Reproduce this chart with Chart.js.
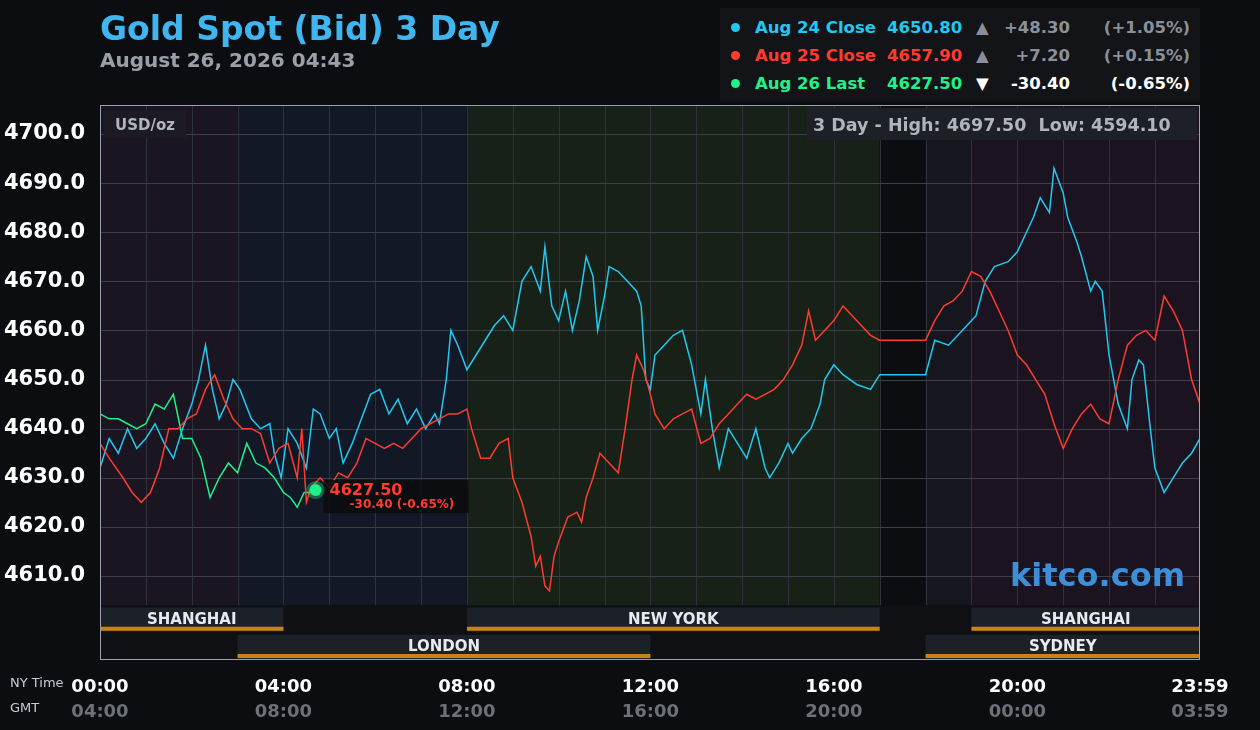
<!DOCTYPE html>
<html><head><meta charset="utf-8">
<script src="https://cdn.jsdelivr.net/npm/chart.js@4"></script>
<style>
body{margin:0;background:#0b0d10;font-family:"DejaVu Sans",sans-serif;}
#wrap{position:relative;width:1260px;height:730px;}
canvas{position:absolute;left:0;top:0;}
#title{position:absolute;left:100px;top:9px;color:#3fb6f0;font-weight:bold;font-size:33px;}
#date{position:absolute;left:100px;top:48px;color:#9aa0a8;font-weight:bold;font-size:20px;}
#legend{position:absolute;left:720px;top:8px;width:480px;height:94px;background:#121417;font-weight:bold;font-size:16.5px;}
.row{position:absolute;left:0;height:24px;width:480px;}
.row span{position:absolute;top:0;}
</style></head><body>
<div id="wrap">
<canvas id="c" width="1260" height="730"></canvas>
<div id="title">Gold Spot (Bid) 3 Day</div>
<div id="date">August 26, 2026 04:43</div>
<div id="legend"></div>
</div>
<script>
const seriesNames=["Aug 24 Close","Aug 25 Close","Aug 26 Last"];
const seriesPrices=["4650.80","4657.90","4627.50"];
const seriesChange=["+48.30","+7.20","-30.40"];
const seriesPct=["(+1.05%)","(+0.15%)","(-0.65%)"];
const seriesColors=["#22c8f0","#ff3b30","#22f08a"];
const xTickNY=["00:00","04:00","08:00","12:00","16:00","20:00","23:59"];
const xTickGMT=["04:00","08:00","12:00","16:00","20:00","00:00","03:59"];
const xTickMin=[0,240,480,720,960,1200,1439];
const yTicks=[4610,4620,4630,4640,4650,4660,4670,4680,4690,4700];
const sessions=[["SHANGHAI",0,4,0],["NEW YORK",8,17,0],["SHANGHAI",19,24,0],["LONDON",3,12,1],["SYDNEY",18,24,1]];

const cyanH=[0,0.2,0.4,0.6,0.8,1.0,1.2,1.4,1.6,1.8,2.0,2.15,2.3,2.45,2.6,2.75,2.9,3.05,3.3,3.5,3.7,3.8,3.95,4.1,4.3,4.5,4.65,4.8,5.0,5.15,5.3,5.5,5.7,5.9,6.1,6.3,6.5,6.7,6.9,7.1,7.3,7.4,7.55,7.65,7.8,8.0,8.2,8.4,8.6,8.8,9.0,9.2,9.4,9.6,9.7,9.85,10.0,10.15,10.3,10.45,10.6,10.75,10.85,11.0,11.1,11.3,11.5,11.7,11.8,11.9,12.0,12.1,12.3,12.5,12.7,12.9,13.1,13.2,13.35,13.5,13.7,13.9,14.1,14.3,14.5,14.6,14.8,15.0,15.1,15.3,15.5,15.7,15.8,16.0,16.2,16.5,16.8,17.0,18.0,18.2,18.5,18.8,19.1,19.3,19.5,19.8,20.0,20.2,20.35,20.5,20.7,20.8,21.0,21.1,21.3,21.4,21.6,21.7,21.85,22.0,22.2,22.4,22.5,22.65,22.75,22.9,23.0,23.2,23.4,23.6,23.8,24];
const cyanV=[4632,4638,4635,4640,4636,4638,4641,4637,4634,4640,4645,4650,4657,4648,4642,4645,4650,4648,4642,4640,4641,4635,4630,4640,4637,4632,4644,4643,4638,4640,4633,4637,4642,4647,4648,4643,4646,4641,4644,4640,4643,4641,4650,4660,4657,4652,4655,4658,4661,4663,4660,4670,4673,4668,4677,4665,4662,4668,4660,4666,4675,4671,4660,4667,4673,4672,4670,4668,4665,4650,4648,4655,4657,4659,4660,4653,4643,4650,4640,4632,4640,4637,4634,4640,4632,4630,4633,4637,4635,4638,4640,4645,4650,4653,4651,4649,4648,4651,4651,4658,4657,4660,4663,4670,4673,4674,4676,4680,4683,4687,4684,4693,4688,4683,4678,4675,4668,4670,4668,4655,4645,4640,4650,4654,4653,4640,4632,4627,4630,4633,4635,4638,4635,4633];
const redH=[0,0.2,0.5,0.7,0.9,1.1,1.3,1.5,1.7,1.9,2.1,2.3,2.5,2.7,2.9,3.1,3.3,3.5,3.7,3.9,4.1,4.3,4.4,4.5,4.6,4.8,5.0,5.2,5.4,5.6,5.8,6.0,6.2,6.4,6.6,6.8,7.0,7.2,7.4,7.6,7.8,8.0,8.1,8.3,8.5,8.7,8.9,9.0,9.2,9.4,9.5,9.6,9.7,9.8,9.9,10.0,10.2,10.4,10.5,10.6,10.75,10.9,11.1,11.3,11.45,11.6,11.7,11.85,12.0,12.1,12.3,12.5,12.7,12.9,13.1,13.3,13.5,13.7,13.9,14.1,14.3,14.5,14.7,14.9,15.1,15.3,15.45,15.6,15.8,16.0,16.2,16.4,16.6,16.8,17.0,18.0,18.2,18.4,18.6,18.8,19.0,19.2,19.4,19.6,19.8,20.0,20.2,20.4,20.6,20.8,21.0,21.2,21.4,21.6,21.8,22.0,22.2,22.4,22.6,22.8,23.0,23.2,23.4,23.6,23.8,24];
const redV=[4637,4634,4630,4627,4625,4627,4632,4640,4640,4642,4643,4648,4651,4646,4642,4640,4640,4639,4633,4636,4637,4630,4640,4625,4628,4630,4628,4631,4630,4633,4638,4637,4636,4637,4636,4638,4640,4641,4642,4643,4643,4644,4640,4634,4634,4637,4638,4630,4625,4618,4612,4614,4608,4607,4614,4617,4622,4623,4621,4626,4630,4635,4633,4631,4640,4650,4655,4652,4647,4643,4640,4642,4643,4644,4637,4638,4641,4643,4645,4647,4646,4647,4648,4650,4653,4657,4664,4658,4660,4662,4665,4663,4661,4659,4658,4658,4662,4665,4666,4668,4672,4671,4668,4664,4660,4655,4653,4650,4647,4641,4636,4640,4643,4645,4642,4641,4650,4657,4659,4660,4658,4667,4664,4660,4650,4645,4647,4649,4645,4642];
const greenH=[0,0.2,0.4,0.6,0.8,1.0,1.2,1.4,1.6,1.8,2.0,2.2,2.4,2.6,2.8,3.0,3.2,3.4,3.6,3.8,4.0,4.15,4.3,4.45,4.6,4.7];
const greenV=[4643,4642,4642,4641,4640,4641,4645,4644,4647,4638,4638,4634,4626,4630,4633,4631,4637,4633,4632,4630,4627,4626,4624,4627,4627,4627.5];

function pts(h,v){return h.map((x,i)=>({x:Math.min(1439,x*60),y:v[i]}));}

const lg=document.getElementById('legend');
seriesNames.forEach((n,i)=>{
  const r=document.createElement('div');r.className='row';r.style.top=(10+i*28)+'px';
  const arrow=i<2?'▲':'▼'; const ac=i<2?'#8a9099':'#ffffff';
  const cc=i<2?'#8a9099':'#ffffff';
  r.innerHTML=`<span style="left:11px;top:5px;width:9px;height:9px;border-radius:50%;background:${seriesColors[i]}"></span>
  <span style="left:35px;color:${seriesColors[i]}">${n}</span>
  <span style="left:167px;color:${seriesColors[i]}">${seriesPrices[i]}</span>
  <span style="left:256px;color:${ac}">${arrow}</span>
  <span style="left:270px;width:80px;text-align:right;color:${cc}">${seriesChange[i]}</span>
  <span style="left:370px;width:100px;text-align:right;color:${cc}">${seriesPct[i]}</span>`;
  lg.appendChild(r);
});

const deco={id:'deco',
 beforeDatasetsDraw(ch){
  const c=ch.ctx,x=ch.scales.x,y=ch.scales.y,a=ch.chartArea;
  const bandTop=y.getPixelForValue(4604);
  const regs=[[0,3,'#1a1520'],[3,8,'#121826'],[8,17,'#172117'],[17,18,'#0c0d10'],[18,19,'#16161f'],[19,24,'#1b1420']];
  regs.forEach(r=>{const x0=x.getPixelForValue(r[0]*60),x1=x.getPixelForValue(Math.min(1439,r[1]*60));c.fillStyle=r[2];c.fillRect(x0,a.top,x1-x0,bandTop-a.top);});
  c.strokeStyle='#2e333b';c.lineWidth=1;
  for(let h=1;h<24;h++){const px=Math.round(x.getPixelForValue(h*60))+0.5;c.beginPath();c.moveTo(px,a.top);c.lineTo(px,bandTop);c.stroke();}
  c.strokeStyle='#3a3f48';
  yTicks.forEach(v=>{const py=Math.round(y.getPixelForValue(v))+0.5;c.beginPath();c.moveTo(a.left,py);c.lineTo(a.right,py);c.stroke();});
  c.fillStyle='#0e1013';c.fillRect(a.left,bandTop,a.right-a.left,a.bottom-bandTop);
  const rowH=(a.bottom-bandTop)/2;
  sessions.forEach(s=>{
   const x0=x.getPixelForValue(s[1]*60),x1=x.getPixelForValue(Math.min(1439,s[2]*60));
   const t=bandTop+s[3]*rowH+2;
   c.fillStyle='#1c2027';c.fillRect(x0,t,x1-x0,rowH-3);
   c.fillStyle='#c8841a';c.fillRect(x0,t+rowH-8,x1-x0,4);
   c.fillStyle='#e8eaee';c.font='bold 15px "DejaVu Sans"';c.textAlign='center';c.textBaseline='middle';
   c.fillText(s[0],(x0+x1)/2,t+rowH/2-1);
  });
 },
 afterDatasetsDraw(ch){
  const c=ch.ctx,x=ch.scales.x,y=ch.scales.y,a=ch.chartArea;
  c.fillStyle='#1d2024';c.fillRect(807,108,390,32);
  c.fillStyle='#b0b5bc';c.font='bold 17.5px "DejaVu Sans"';c.textAlign='left';c.textBaseline='middle';
  c.fillText('3 Day - High: 4697.50  Low: 4594.10',813,126);
  c.fillStyle='#1c1a22';c.fillRect(104,110,82,28);
  c.fillStyle='#b0b5bc';c.font='bold 15px "DejaVu Sans"';c.fillText('USD/oz',115,126);
  const lx=x.getPixelForValue(greenH[greenH.length-1]*60),ly=y.getPixelForValue(greenV[greenV.length-1]);
  c.fillStyle='rgba(10,12,14,0.85)';c.fillRect(lx+8,ly-10,145,33);
  c.fillStyle='rgba(34,240,138,0.35)';c.beginPath();c.arc(lx,ly,9,0,Math.PI*2);c.fill();
  c.fillStyle='#22f08a';c.beginPath();c.arc(lx,ly,6,0,Math.PI*2);c.fill();
  c.fillStyle='#ff3b30';c.font='bold 16px "DejaVu Sans"';c.fillText('4627.50',lx+14,ly+1);
  c.font='bold 12px "DejaVu Sans"';c.fillText('-30.40 (-0.65%)',lx+34,ly+15);
  c.fillStyle='#3d8fd8';c.font='bold 32px "DejaVu Sans"';c.textAlign='right';c.fillText('kitco.com',1185,578);
  c.strokeStyle='#9aa0b0';c.lineWidth=1;c.strokeRect(a.left+0.5,a.top+0.5,a.right-a.left-1,a.bottom-a.top-1);
  c.textAlign='center';
  xTickMin.forEach((m,i)=>{const px=x.getPixelForValue(m);
   c.fillStyle='#ffffff';c.font='bold 18px "DejaVu Sans"';c.fillText(xTickNY[i],px,687);
   c.fillStyle='#6c7178';c.fillText(xTickGMT[i],px,712);});
  c.textAlign='left';c.font='13px "DejaVu Sans"';c.fillStyle='#c8ccd2';
  c.fillText('NY Time',10,684);c.fillText('GMT',10,709);
 }};

new Chart(document.getElementById('c'),{type:'line',
 data:{datasets:[
  {data:pts(redH,redV),borderColor:seriesColors[1],borderWidth:1.5,pointRadius:0,tension:0},
  {data:pts(cyanH,cyanV),borderColor:seriesColors[0],borderWidth:1.5,pointRadius:0,tension:0},
  {data:pts(greenH,greenV),borderColor:seriesColors[2],borderWidth:1.5,pointRadius:0,tension:0}]},
 options:{responsive:false,animation:false,devicePixelRatio:1,
  layout:{padding:{top:105,right:60,bottom:70,left:0}},
  plugins:{legend:{display:false},tooltip:{enabled:false}},
  scales:{
   x:{type:'linear',min:0,max:1439,display:false},
   y:{min:4592.9,max:4705.9,afterFit(s){s.width=100;},
    afterBuildTicks(s){s.ticks=yTicks.map(v=>({value:v}));},
    grid:{display:false},border:{display:false},
    ticks:{color:'#ffffff',font:{size:21,weight:'bold',family:'DejaVu Sans'},padding:7,callback:v=>v.toFixed(1)}}}},
 plugins:[deco]});
</script></body></html>
